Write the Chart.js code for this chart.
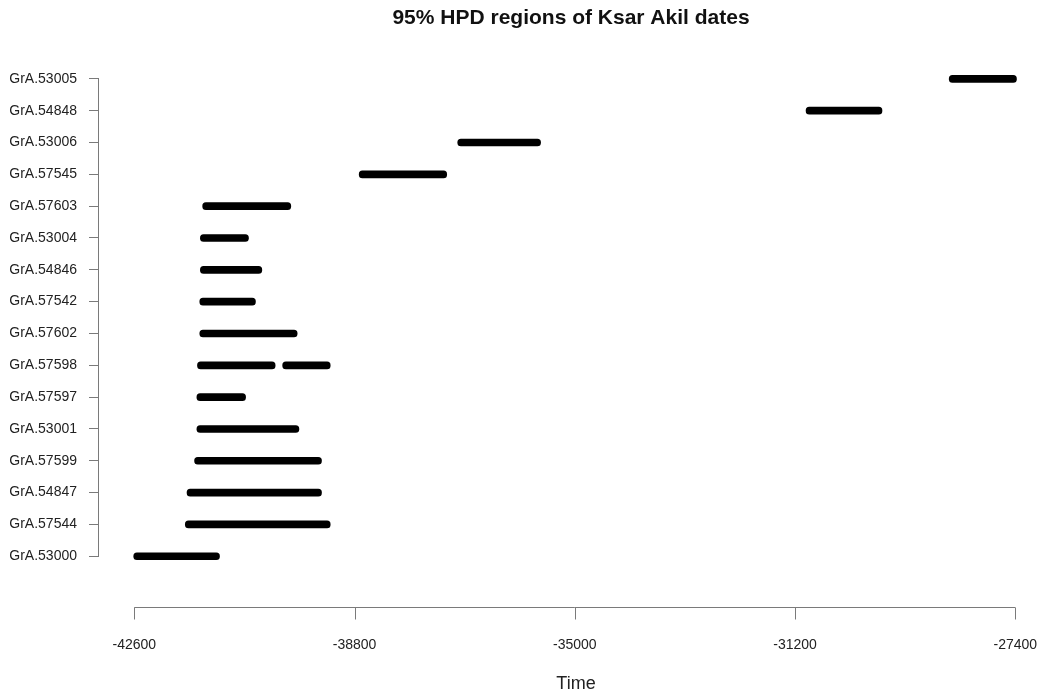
<!DOCTYPE html>
<html>
<head>
<meta charset="utf-8">
<script src="https://cdn.jsdelivr.net/npm/chart.js@4/dist/chart.umd.min.js"></script>
<style>
  html, body { margin: 0; padding: 0; background: #fff; overflow: hidden; }
  #wrap { width: 1043px; height: 698px; }
</style>
</head>
<body>
<div id="wrap"><canvas id="c" width="1043" height="698"></canvas></div>
<script>
const samples = ["GrA.53005","GrA.54848","GrA.53006","GrA.57545","GrA.57603","GrA.53004","GrA.54846","GrA.57542","GrA.57602","GrA.57598","GrA.57597","GrA.53001","GrA.57599","GrA.54847","GrA.57544","GrA.53000"];
const hpdStart = [-28540,-31010,-37020,-38720,-41420,-41460,-41460,-41470,-41470,-41510,-41520,-41520,-41560,-41690,-41720,-42610];
const hpdEnd   = [-27380,-29700,-35590,-37210,-39900,-40630,-40400,-40510,-39790,-40170,-40680,-39760,-39370,-39370,-39220,-41130];
// second HPD interval (only GrA.57598 has one)
const hpd2Start = [null,null,null,null,null,null,null,null,null,-40040,null,null,null,null,null,null];
const hpd2End   = [null,null,null,null,null,null,null,null,null,-39220,null,null,null,null,null,null];
const xTicks = [-42600,-38800,-35000,-31200,-27400];
const titleText = "95% HPD regions of Ksar Akil dates";
const xTitle = "Time";

const seg1 = samples.map((s,i) => [hpdStart[i], hpdEnd[i]]);
const seg2 = samples.map((s,i) => hpd2Start[i] === null ? null : [hpd2Start[i], hpd2End[i]]);

const axisColor = '#7a7a7a';
const textColor = '#222';
const fontFam = '"Liberation Sans", Arial, Helvetica, sans-serif';

const axesPlugin = {
  id: 'rAxes',
  afterDraw(chart) {
    const ctx = chart.ctx;
    const xs = chart.scales.x, ys = chart.scales.y;
    ctx.save();
    ctx.strokeStyle = axisColor;
    ctx.lineWidth = 1;
    const yTop = ys.getPixelForValue(0), yBot = ys.getPixelForValue(samples.length - 1);
    const yx = Math.round(chart.chartArea.left) - 0.5;
    ctx.beginPath();
    ctx.moveTo(yx, yTop); ctx.lineTo(yx, yBot);
    ctx.stroke();
    const axY = 607.5;
    const x0 = xs.getPixelForValue(xTicks[0]), x1 = xs.getPixelForValue(xTicks[xTicks.length-1]);
    ctx.beginPath();
    ctx.moveTo(x0, axY); ctx.lineTo(x1, axY);
    xTicks.forEach(t => {
      const px = Math.round(xs.getPixelForValue(t)) + 0.5;
      ctx.moveTo(px, axY); ctx.lineTo(px, axY + 12);
    });
    ctx.stroke();
    ctx.fillStyle = textColor;
    ctx.font = '14px ' + fontFam;
    ctx.textAlign = 'center';
    ctx.textBaseline = 'middle';
    xTicks.forEach(t => {
      ctx.fillText(String(t), xs.getPixelForValue(t), 645);
    });
    ctx.font = '18px ' + fontFam;
    ctx.fillText(xTitle, 576, 684);
    ctx.restore();
  }
};

new Chart(document.getElementById('c'), {
  type: 'bar',
  data: {
    labels: samples,
    datasets: [
      { data: seg1, backgroundColor: '#000', borderRadius: 3.5, borderSkipped: false, barThickness: 7, grouped: false },
      { data: seg2, backgroundColor: '#000', borderRadius: 3.5, borderSkipped: false, barThickness: 7, grouped: false }
    ]
  },
  options: {
    indexAxis: 'y',
    responsive: false,
    animation: false,
    layout: { padding: { top: 0, bottom: 125.8, left: 0, right: 0 } },
    plugins: {
      legend: { display: false },
      tooltip: { enabled: false },
      title: {
        display: true,
        text: titleText,
        fullSize: false,
        color: '#111',
        font: { family: fontFam, size: 21, weight: 'bold', lineHeight: 1.2 },
        padding: { top: 6, bottom: 31.7 }
      }
    },
    scales: {
      x: {
        type: 'linear',
        display: false,
        min: -43209,
        max: -26922
      },
      y: {
        type: 'category',
        offset: true,
        border: { display: false },
        grid: { display: true, drawOnChartArea: false, drawTicks: true, tickLength: 10, color: axisColor, offset: false },
        ticks: { color: textColor, font: { family: fontFam, size: 14 }, padding: 12, autoSkip: false },
        afterFit(scale) { scale.width = 99; }
      }
    }
  },
  plugins: [axesPlugin]
});
</script>
</body>
</html>
